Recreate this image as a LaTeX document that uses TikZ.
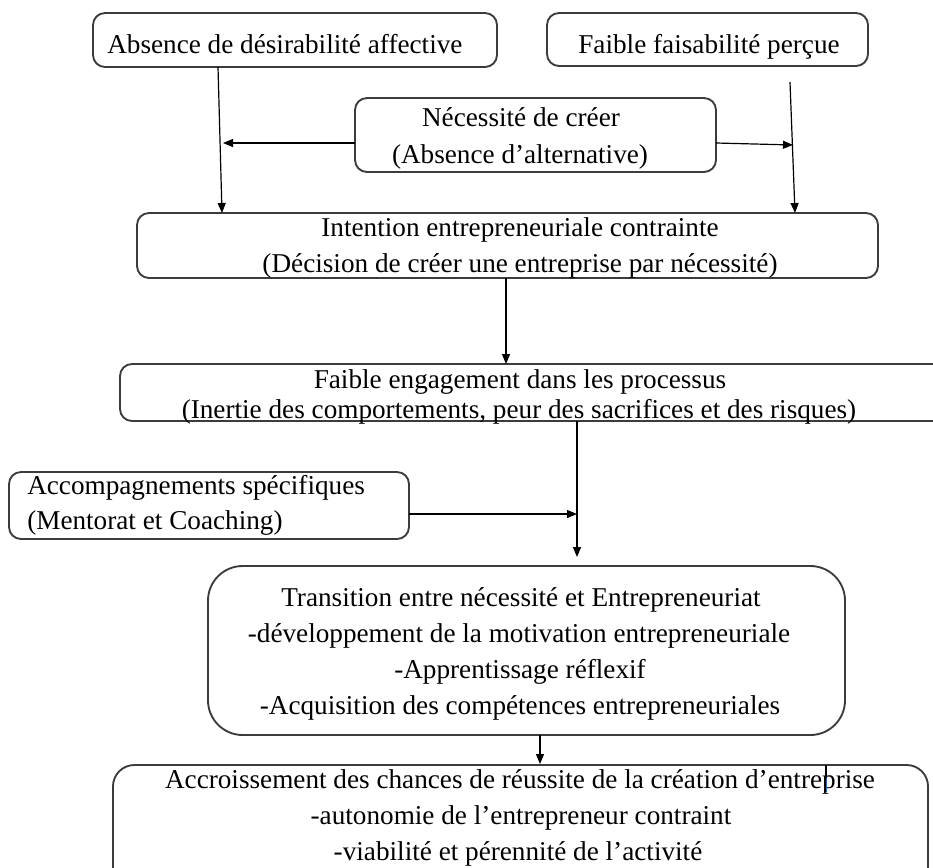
\documentclass[tikz,border=0pt]{standalone}
\usepackage{fontspec}
\setmainfont{Liberation Serif}
\usetikzlibrary{fit,calc,arrows.meta}
\definecolor{boxgray}{HTML}{3C3C3C}
\begin{document}
\begin{tikzpicture}[x=0.75pt,y=-0.75pt,
  box/.style={draw=boxgray, line width=1.4pt, rounded corners=9pt, inner sep=0pt, outer sep=0pt},
  txt/.style={inner sep=0pt, anchor=base, font=\fontsize{20.4}{24}\selectfont, text=black},
  ltxt/.style={txt, anchor=base west},
  arr/.style={line width=0.9pt, -{Triangle[length=7.5pt,width=6pt]}},
]
\useasboundingbox (0,0) rectangle (933,868);
\clip (0,0) rectangle (933,868);

% boxes
\node[box, fit={(93,13) (497,67)}] (A) {};
\node[box, fit={(547,13) (868,66)}] (B) {};
\node[box, fit={(355,98) (716,172)}] (C) {};
\node[box, fit={(137,213) (878,278)}] (D) {};
\node[box, fit={(120,364) (980,421)}] (E) {};
\node[box, fit={(9,472) (409,539)}] (F) {};
\node[box, rounded corners=26pt, fit={(208,566) (845,735)}] (G) {};
\node[box, rounded corners=16pt, fit={(113,765) (928,910)}] (H) {};

% texts
\node[ltxt] (A1) at (107,53) {Absence de désirabilité affective};
\node[txt] (B1) at (709,53) {Faible faisabilité perçue};
\node[txt] (C1) at (521,126) {Nécessité de créer};
\node[txt] (C2) at (520,163) {(Absence d’alternative)};
\node[txt] (D1) at (520,236) {Intention entrepreneuriale contrainte};
\node[txt] (D2) at (520,272) {(Décision de créer une entreprise par nécessité)};
\node[txt] (E1) at (520,388) {Faible engagement dans les processus};
\node[txt] (E2) at (519,418) {(Inertie des comportements, peur des sacrifices et des risques)};
\node[ltxt] (F1) at (27,494) {Accompagnements spécifiques};
\node[ltxt] (F2) at (27,529) {(Mentorat et Coaching)};
\node[txt] (G1) at (521,606) {Transition entre nécessité et Entrepreneuriat};
\node[txt] (G2) at (519,642) {-développement de la motivation entrepreneuriale};
\node[txt] (G3) at (520,678) {-Apprentissage réflexif};
\node[txt] (G4) at (520,714) {-Acquisition des compétences entrepreneuriales};
\node[txt] (H1) at (520,788) {Accroissement des chances de réussite de la création d’entreprise};
\node[txt] (H2) at (521,824) {-autonomie de l’entrepreneur contraint};
\node[txt] (H3) at (518,860) {-viabilité et pérennité de l’activité};

% connectors
\coordinate (b0) at (790,82);
\draw[arr] ($(A.south west)+(125,0)$) -- ($(D.north west)+(85,0)$);
\draw[arr] (b0) -- ($(D.north west)+(658,0)$);
\draw[arr] ($(C.west)+(0,8)$) -- ($(C.west)+(-132,8)$);
\draw[arr] ($(C.east)+(0,8)$) -- ($(C.east)+(77,10)$);
\draw[arr] ($(D.south west)+(369,0)$) -- ($(E.north west)+(386,0)$);
\draw[arr] ($(E.south west)+(457,0)$) -- ($(G.north west)+(369,-9)$);
\draw[arr] ($(F.east)+(0,8.5)$) -- ($(F.east)+(168,8.5)$);
\draw[arr] ($(G.south west)+(332,0)$) -- ($(H.north west)+(427,-1)$);

% text cursor mark
\draw[line width=0.9pt] ($(H.north west)+(713,0)$) -- ($(H.north west)+(713,13)$);
\draw[line width=0.6pt, blue!60!cyan] ($(H.north west)+(713,13)$) -- ($(H.north west)+(713,27)$);
\end{tikzpicture}
\end{document}
